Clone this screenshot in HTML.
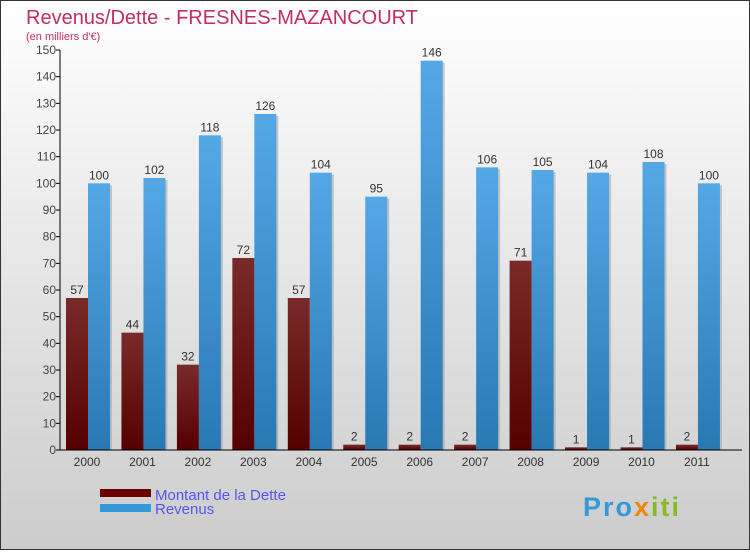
<!DOCTYPE html>
<html><head><meta charset="utf-8"><style>
body{margin:0;width:750px;height:550px;overflow:hidden;font-family:"Liberation Sans",sans-serif}
</style></head><body>
<svg id="c" width="750" height="550" xmlns="http://www.w3.org/2000/svg">
<defs>
<linearGradient id="bg" x1="0" y1="0" x2="0" y2="1"><stop offset="0" stop-color="#ffffff"/><stop offset="1" stop-color="#cccccc"/></linearGradient>
<linearGradient id="gd" x1="0" y1="0" x2="0" y2="1"><stop offset="0" stop-color="#7a2a2a"/><stop offset="1" stop-color="#560000"/></linearGradient>
<linearGradient id="gr" x1="0" y1="0" x2="0" y2="1"><stop offset="0" stop-color="#55a8e6"/><stop offset="1" stop-color="#2878b4"/></linearGradient>
</defs>
<rect x="0.5" y="0.5" width="749" height="549" fill="url(#bg)" stroke="#333"/>
<text x="26" y="24" font-size="20" fill="#c0305a">Revenus/Dette - FRESNES-MAZANCOURT</text>
<text x="26" y="40" font-size="11" fill="#c0305a">(en milliers d'€)</text>
<g id="plot"></g>
<g>
<rect x="100" y="489" width="51" height="8" fill="#6a0000"/>
<text x="155" y="500" font-size="15" fill="#5555ee">Montant de la Dette</text>
<rect x="100" y="504" width="51" height="8" fill="#3399dd"/>
<text x="155" y="514" font-size="15" fill="#5555ee">Revenus</text>
</g>
<text x="583" y="516" font-size="27" font-weight="bold" letter-spacing="2" fill="#3399dd">Pro<tspan fill="#ee8800">x</tspan><tspan fill="#88bb22">iti</tspan></text>
</svg>
<script>
const years=["2000","2001","2002","2003","2004","2005","2006","2007","2008","2009","2010","2011"];
const dette=[57,44,32,72,57,2,2,2,71,1,1,2];
const revenus=[100,102,118,126,104,95,146,106,105,104,108,100];
const yTicks=[0,10,20,30,40,50,60,70,80,90,100,110,120,130,140,150];
const NS="http://www.w3.org/2000/svg";
const g=document.getElementById('plot');
const y0=450,yTop=50,yMax=150,x0=60,step=55.45;
const yS=v=>y0-v*(y0-yTop)/yMax;
const xC=i=>87+i*step;
function el(t,a,txt){const e=document.createElementNS(NS,t);for(const k in a)e.setAttribute(k,a[k]);if(txt!=null)e.textContent=txt;g.appendChild(e);return e;}
yTicks.forEach(v=>{
 const l=el('line',{x1:x0-4,x2:x0,y1:yS(v),y2:yS(v),stroke:'#000'});
 
 
 const t=el('text',{x:x0-4,y:yS(v)+4,'font-size':12,'text-anchor':'end',fill:'#444'},v);
 
 
});
years.forEach((yr,i)=>{
 const c=xC(i);
 [[dette[i],c-21,'url(#gd)','bar-dette'],[revenus[i],c+1,'url(#gr)','bar-revenus']].forEach(([v,x,f,n])=>{
  const s=el('rect',{x:x+2,y:yS(v)+2,width:22,height:y0-yS(v)-2,fill:'#999',opacity:0.5});
  
  
  const r=el('rect',{x:x,y:yS(v),width:22,height:y0-yS(v),fill:f});
  
  
  const t=el('text',{x:x+11,y:yS(v)-4,'font-size':12,'text-anchor':'middle',fill:'#333'},v);
  
  
 });
 const tl=el('text',{x:c,y:466,'font-size':12,'text-anchor':'middle',fill:'#333'},yr);
 
 
});
const ya=el('line',{x1:x0,x2:x0,y1:yTop,y2:y0,stroke:'#000'});


const xa=el('line',{x1:x0,x2:742,y1:y0,y2:y0,stroke:'#000'});


</script>
</body></html>
